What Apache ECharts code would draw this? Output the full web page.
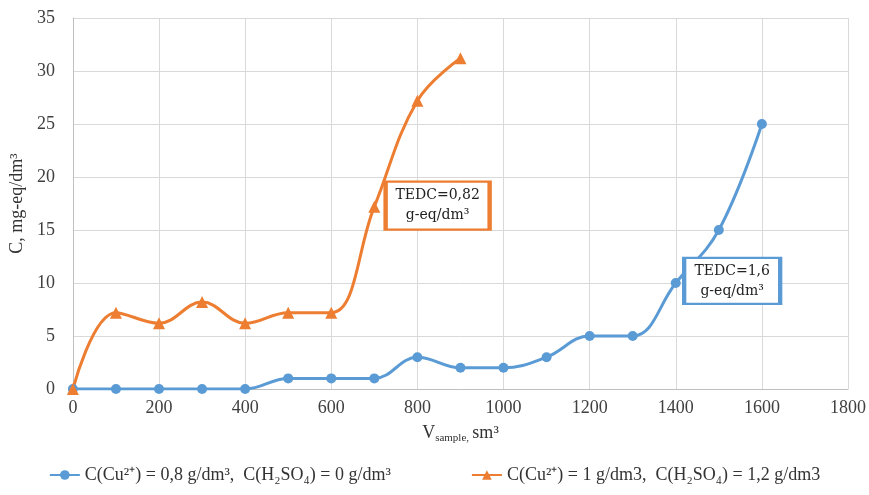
<!DOCTYPE html>
<html><head><meta charset="utf-8">
<script src="https://cdn.jsdelivr.net/npm/echarts@6/dist/echarts.min.js"></script>
<style>html,body{margin:0;padding:0;background:#fff}#c{width:869px;height:495px}</style>
</head><body><div id="c"></div>
<script>
const xValues = [0,100,200,300,400,500,600,700,800,900,1000,1100,1200,1300,1400,1500,1600];
const blueValues = [0,0,0,0,0,1,1,1,3,2,2,3,5,5,10,15,25];
const orangeX = [0,100,200,300,400,500,600,700,800,900];
const orangeValues = [0,7.2,6.2,8.2,6.2,7.2,7.2,17.2,27.2,31.2];
const blueName = 'C(Cu²⁺) = 0,8 g/dm³,  C(H₂SO₄) = 0 g/dm³';
const orangeName = 'C(Cu²⁺) = 1 g/dm3,  C(H₂SO₄) = 1,2 g/dm3';
const orangeNote = ['TEDC=0,82', 'g-eq/dm³'];
const blueNote = ['TEDC=1,6', 'g-eq/dm³'];
const BLUE = '#5B9BD5', ORANGE = '#ED7D31';
const serif = 'Liberation Serif';
const chart = echarts.init(document.getElementById('c'));
function note(coord, lines, color, w, h){
  return {
    symbol:'rect', symbolSize:[w,h], coord:coord,
    itemStyle:{color:'#fff', borderColor:color, borderWidth:3},
    label:{show:true, position:'inside', formatter:lines.join('\n'), color:'#222',
      fontFamily:'DejaVu Serif', fontSize:14, lineHeight:20, align:'center'}
  };
}
chart.setOption({
  animation:false,
  grid:{left:72, right:21, top:18, bottom:106, containLabel:false},
  xAxis:{type:'value', min:0, max:1800, interval:200,
    name:'{v|V}{s|sample,} {v|sm³}', nameLocation:'middle', nameGap:34,
    nameTextStyle:{rich:{v:{fontFamily:serif,fontSize:18,color:'#333'}, s:{fontFamily:serif,fontSize:11,color:'#333',verticalAlign:'bottom',padding:[10,0,0,0]}}},
    axisLine:{show:true, lineStyle:{color:'#bfbfbf'}}, axisTick:{show:false},
    axisLabel:{fontFamily:serif, fontSize:18, color:'#404040', margin:10, formatter:v=>String(v)},
    splitLine:{show:true, lineStyle:{color:'#d9d9d9'}}},
  yAxis:{type:'value', min:0, max:35, interval:5,
    name:'C, mg-eq/dm³', nameLocation:'middle', nameGap:44,
    nameTextStyle:{fontFamily:serif, fontSize:18, color:'#333'},
    axisLine:{show:true, lineStyle:{color:'#bfbfbf'}}, axisTick:{show:false},
    axisLabel:{fontFamily:serif, fontSize:18, color:'#404040', margin:18},
    splitLine:{show:true, lineStyle:{color:'#d9d9d9'}}},
  legend:{bottom:6, left:'center', itemGap:80, itemWidth:30, itemHeight:12,
    textStyle:{fontFamily:serif, fontSize:18, color:'#333'},
    data:[blueName, orangeName]},
  series:[
    {name:blueName, type:'line', smooth:0.4, data:xValues.map((x,i)=>[x,blueValues[i]]),
      symbol:'circle', symbolSize:10, lineStyle:{color:BLUE,width:3}, itemStyle:{color:BLUE},
      markPoint:{data:[note([1531,10.2], blueNote, BLUE, 96, 46)]}},
    {name:orangeName, type:'line', smooth:0.4, data:orangeX.map((x,i)=>[x,orangeValues[i]]),
      symbol:'triangle', symbolSize:12, lineStyle:{color:ORANGE,width:3}, itemStyle:{color:ORANGE},
      markPoint:{data:[note([847,17.3], orangeNote, ORANGE, 104, 48)]}}
  ]
});
</script></body></html>
